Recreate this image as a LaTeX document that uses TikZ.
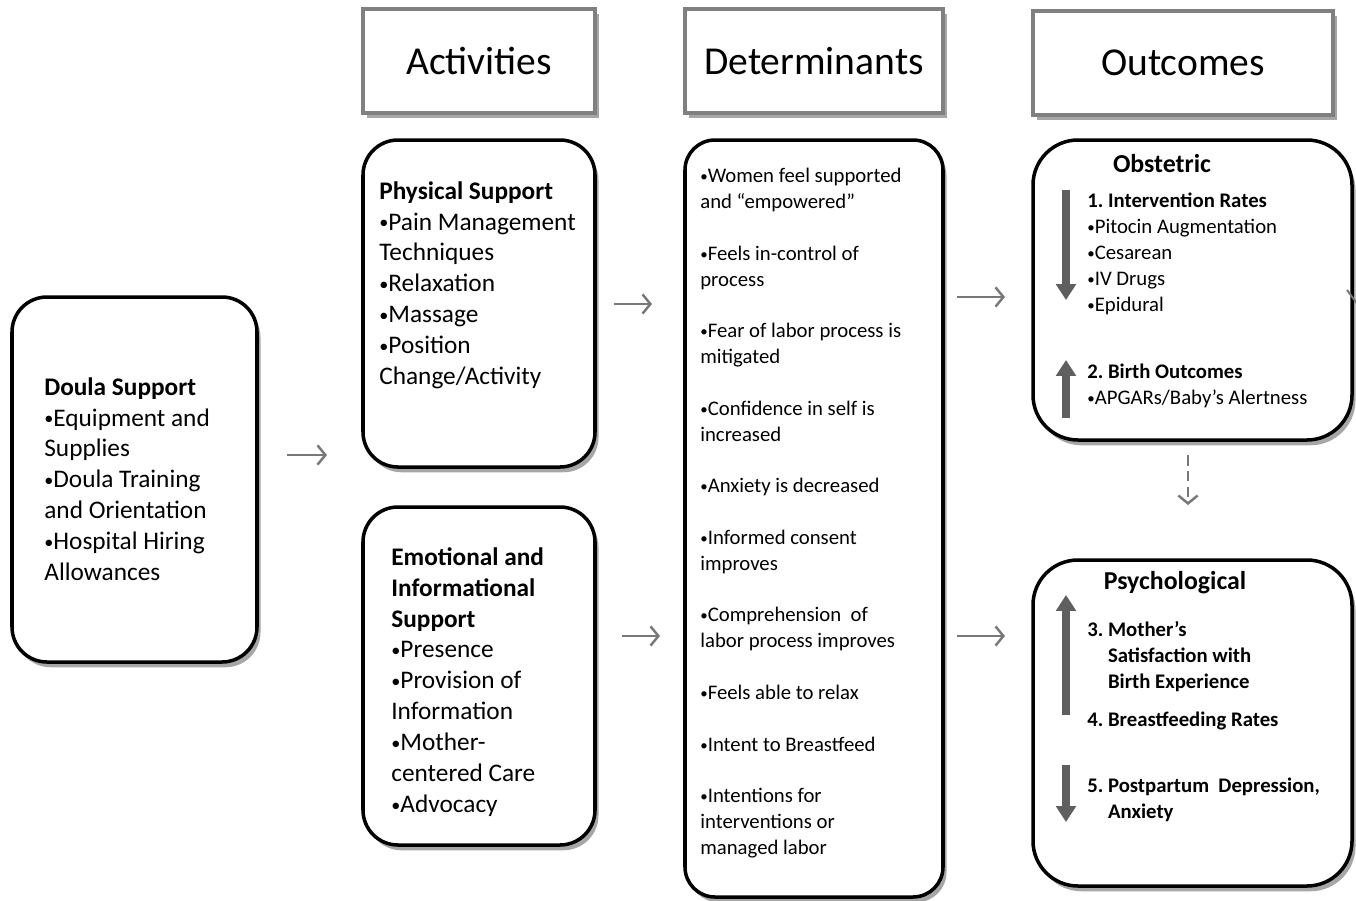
\documentclass[tikz,border=0pt]{standalone}
\usepackage{fontspec}
\setmainfont{Carlito}
\usepackage{tikz}
\usetikzlibrary{arrows.meta, positioning, calc, shadows}
\definecolor{hdrgray}{RGB}{128,128,128}
\definecolor{arrgray}{RGB}{120,120,120}
\definecolor{blkgray}{RGB}{95,95,95}
\tikzset{
  hdr/.style={rectangle, draw=hdrgray, fill=white, line width=2.3pt,
    font=\fontsize{22.5}{27}\selectfont,
    drop shadow={shadow xshift=2pt, shadow yshift=-3pt, opacity=0.35, fill=black}},
  rbox/.style={rectangle, draw=black, fill=white, line width=2pt,
    rounded corners=0.7cm,
    drop shadow={shadow xshift=2pt, shadow yshift=-3pt, opacity=0.35, fill=black}},
  bigtxt/.style={anchor=north west, inner sep=0pt, align=left,
    font=\fontsize{14.4}{17.6}\selectfont},
  smalltxt/.style={anchor=north west, inner sep=0pt, align=left,
    font=\fontsize{11.8}{14.7}\selectfont},
  ttl/.style={inner sep=0pt, font=\fontsize{14.7}{17.6}\selectfont\bfseries},
  arrow/.style={-{Straight Barb[length=4.5pt, width=11pt]}, line width=1.4pt, color=arrgray},
  bigarrow/.style={-{Triangle[length=9pt, width=11pt]}, line width=4.5pt, color=blkgray}
}
\newcommand{\bl}{\raisebox{.1ex}{\scalebox{.72}{\textbullet}}}
\frenchspacing

\begin{document}
\begin{tikzpicture}
  \useasboundingbox (0,0) rectangle (27.12,-18);
  % column headers
  \node[hdr, minimum width=4.64cm, minimum height=2.08cm] (hact) at (9.58,-1.22) {Activities};
  \node[hdr, minimum width=5.16cm, minimum height=2.08cm] (hdet) at (16.28,-1.22) {Determinants};
  \node[hdr, minimum width=6.0cm, minimum height=2.08cm] (hout) at (23.66,-1.26) {Outcomes};

  % boxes
  \node[rbox, minimum width=4.9cm, minimum height=7.3cm] (doula) at (2.69,-9.59) {};
  \node[rbox, minimum width=4.64cm, minimum height=6.54cm] (phys) at (9.58,-6.07) {};
  \node[rbox, minimum width=4.64cm, minimum height=6.76cm] (emo) at (9.58,-13.52) {};
  \node[rbox, rounded corners=0.6cm, minimum width=5.16cm, minimum height=15.14cm] (det) at (16.28,-10.37) {};
  \node[rbox, rounded corners=0.9cm, minimum width=6.38cm, minimum height=6.0cm] (obst) at (23.85,-5.8) {};
  \node[rbox, rounded corners=0.9cm, minimum width=6.38cm, minimum height=6.52cm] (psych) at (23.85,-14.46) {};

  % inputs
  \node[bigtxt] (doulaT) at (0.88,-7.54) {\textbf{Doula Support}\\
    \bl Equipment and\\ Supplies\\
    \bl Doula Training\\ and Orientation\\
    \bl Hospital Hiring\\ Allowances};

  % activities
  \node[bigtxt] (physT) at (7.58,-3.62) {\textbf{Physical Support}\\
    \bl Pain Management\\ Techniques\\
    \bl Relaxation\\
    \bl Massage\\
    \bl Position\\ Change/Activity};
  \node[bigtxt] (emoT) at (7.82,-10.94) {\textbf{Emotional and}\\ \textbf{Informational}\\ \textbf{Support}\\
    \bl Presence\\
    \bl Provision of\\ Information\\
    \bl Mother-\\ centered Care\\
    \bl Advocacy};

  % determinants
  \node[smalltxt] (detT) at (14.0,-3.36) {\bl Women feel supported\\ and “empowered”\\[14.7pt]
    \bl Feels in-control of\\ process\\[14.7pt]
    \bl Fear of labor process is\\ mitigated\\[14.7pt]
    \bl Confidence in self is\\ increased\\[14.7pt]
    \bl Anxiety is decreased\\[14.7pt]
    \bl Informed consent\\ improves\\[14.7pt]
    \bl Comprehension~ of\\ labor process improves\\[14.7pt]
    \bl Feels able to relax\\[14.7pt]
    \bl Intent to Breastfeed\\[14.7pt]
    \bl Intentions for\\ interventions or\\ managed labor};

  % outcomes
  \node[ttl] (obstT) at (23.24,-3.28) {Obstetric};
  \node[smalltxt] (obst1) at (21.74,-3.86) {\textbf{1. Intervention Rates}\\
    \bl Pitocin Augmentation\\ \bl Cesarean\\ \bl IV Drugs\\ \bl Epidural};
  \node[smalltxt] (obst2) at (21.74,-7.28) {\textbf{2. Birth Outcomes}\\
    \bl APGARs/Baby’s Alertness};
  \node[ttl] (psychT) at (23.5,-11.66) {Psychological};
  \node[smalltxt, font=\fontsize{11.8}{14.7}\selectfont\bfseries] (psy1) at (21.74,-12.42) {3. Mother’s\\
    \phantom{3.~}Satisfaction with\\ \phantom{3.~}Birth Experience};
  \node[smalltxt, font=\fontsize{11.8}{14.7}\selectfont\bfseries] (psy2) at (21.74,-14.24) {4. Breastfeeding Rates};
  \node[smalltxt, font=\fontsize{11.8}{14.7}\selectfont\bfseries] (psy3) at (21.74,-15.56) {5. Postpartum~ Depression,\\
    \phantom{5.~}Anxiety};

  % direction arrows
  \draw[bigarrow] (21.32,-3.8) -- (21.32,-6.0);
  \draw[bigarrow] (21.32,-8.36) -- (21.32,-7.2);
  \draw[bigarrow] (21.32,-14.3) -- (21.32,-11.9);
  \draw[bigarrow] (21.32,-15.3) -- (21.32,-16.44);

  % connectors
  \coordinate (a1s) at (5.74,-9.1);   \coordinate (a1e) at (6.54,-9.1);
  \coordinate (a2s) at (12.28,-6.08); \coordinate (a2e) at (13.04,-6.08);
  \coordinate (a3s) at (12.44,-12.72);\coordinate (a3e) at (13.2,-12.72);
  \coordinate (a4s) at (19.14,-5.94); \coordinate (a4e) at (20.1,-5.94);
  \coordinate (a5s) at (19.14,-12.72);\coordinate (a5e) at (20.1,-12.72);
  \coordinate (a6s) at (23.76,-9.1);  \coordinate (a6e) at (23.76,-10.1);
  \draw[arrow] (a1s) -- (a1e);
  \draw[arrow] (a2s) -- (a2e);
  \draw[arrow] (a3s) -- (a3e);
  \draw[arrow] (a4s) -- (a4e);
  \draw[arrow] (a5s) -- (a5e);
  \draw[arrow, dashed, dash pattern=on 6pt off 3pt] (a6s) -- (a6e);
  \coordinate (a7s) at (26.94,-5.8);
  \draw[arrgray, line width=1.1pt] (a7s) -- (27.2,-6.15);
\end{tikzpicture}
\end{document}
